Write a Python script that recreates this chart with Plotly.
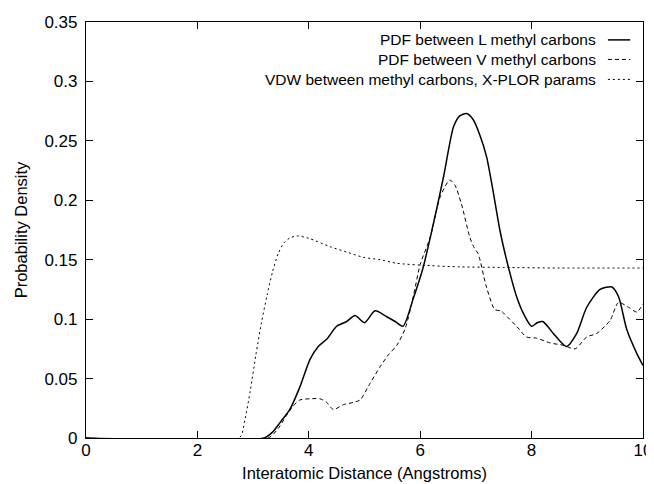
import plotly.graph_objects as go

# ---- data ----
l_x = [0, 3.2, 3.35, 3.5, 3.66, 3.84, 4.02, 4.17, 4.32, 4.5, 4.68, 4.83, 5.0, 5.19, 5.4, 5.55,
       5.69, 5.88, 6.05, 6.24, 6.42, 6.6, 6.71, 6.83, 6.95, 7.07, 7.19, 7.3, 7.43, 7.55, 7.73,
       7.85, 8.0, 8.1, 8.2, 8.39, 8.5, 8.63, 8.81, 8.99, 9.23, 9.44, 9.56, 9.71, 9.89, 10]
l_y = [0, 0, 0.005, 0.014, 0.024, 0.043, 0.066, 0.077, 0.083, 0.094, 0.098, 0.103, 0.097, 0.107,
       0.102, 0.098, 0.094, 0.118, 0.143, 0.181, 0.220, 0.262, 0.271, 0.273, 0.268, 0.255, 0.237,
       0.210, 0.175, 0.150, 0.119, 0.105, 0.094, 0.097, 0.098, 0.088, 0.082, 0.077, 0.088, 0.110,
       0.125, 0.127, 0.119, 0.091, 0.071, 0.061]

v_x = [0, 3.27, 3.45, 3.6, 3.72, 3.84, 4.02, 4.2, 4.32, 4.44, 4.62, 4.8, 4.92, 5.1, 5.28, 5.43,
       5.58, 5.73, 5.88, 6.0, 6.18, 6.36, 6.53, 6.62, 6.74, 6.89, 6.97, 7.04, 7.19, 7.34, 7.45,
       7.52, 7.73, 7.91, 8.09, 8.33, 8.57, 8.78, 8.99, 9.17, 9.41, 9.56, 9.74, 9.89, 10]
v_y = [0, 0, 0.008, 0.019, 0.027, 0.032, 0.033, 0.033, 0.030, 0.024, 0.028, 0.030, 0.032, 0.046,
       0.060, 0.070, 0.078, 0.092, 0.120, 0.146, 0.169, 0.203, 0.217, 0.213, 0.197, 0.169, 0.160,
       0.155, 0.127, 0.108, 0.107, 0.104, 0.094, 0.085, 0.084, 0.080, 0.078, 0.075, 0.085, 0.088,
       0.099, 0.114, 0.110, 0.106, 0.113]

vdw_x = [0, 2.75, 2.85, 2.95, 3.05, 3.15, 3.25, 3.35, 3.45, 3.55, 3.65, 3.78, 4.0, 4.38, 4.71,
         4.98, 5.28, 5.58, 6.18, 6.71, 7.5, 8.5, 10]
vdw_y = [0, 0, 0.015, 0.04, 0.07, 0.097, 0.12, 0.14, 0.155, 0.164, 0.168, 0.170, 0.168, 0.161,
         0.156, 0.152, 0.150, 0.147, 0.145, 0.144, 0.1435, 0.143, 0.143]

series_names = ["PDF between L methyl carbons",
                "PDF between V methyl carbons",
                "VDW between methyl carbons, X-PLOR params"]

x_ticks = [0, 2, 4, 6, 8, 10]
y_ticks = [0, 0.05, 0.1, 0.15, 0.2, 0.25, 0.3, 0.35]
y_tick_text = ["0", "0.05", "0.1", "0.15", "0.2", "0.25", "0.3", "0.35"]

FONT = "Liberation Sans, Arial, Helvetica, sans-serif"

fig = go.Figure()
styles = [dict(color="black", width=1.5, dash="solid"),
          dict(color="black", width=1, dash="4px,3px"),
          dict(color="black", width=1, dash="2px,3px")]
for (xs, ys), name, st in zip([(l_x, l_y), (v_x, v_y), (vdw_x, vdw_y)], series_names, styles):
    fig.add_trace(go.Scatter(x=xs, y=ys, mode="lines", name=name,
                             line=dict(shape="spline", smoothing=0.7, **st),
                             showlegend=False, cliponaxis=True))

# legend drawn gnuplot-style: text right-aligned, sample to the right
rows_y = [0.957, 0.910, 0.862]
for name, st, ry in zip(series_names, styles, rows_y):
    fig.add_annotation(x=0.919, y=ry, xref="paper", yref="paper", text=name,
                       showarrow=False, xanchor="right", yanchor="middle",
                       font=dict(family=FONT, size=15.5, color="black"))
    fig.add_shape(type="line", xref="paper", yref="paper", x0=0.937, x1=0.977, y0=ry, y1=ry,
                  line=dict(color="black", width=st["width"], dash=st["dash"]))

axis_common = dict(showgrid=False, zeroline=False, showline=True, linecolor="black",
                   linewidth=1.2, mirror="allticks", ticks="inside", ticklen=7,
                   tickcolor="black", automargin=False,
                   tickfont=dict(family=FONT, size=17, color="black"))
fig.update_xaxes(range=[0, 10], tickvals=x_ticks, ticktext=[str(t) for t in x_ticks],
                 ticklabelstandoff=-4,
                 title=dict(text="Interatomic Distance (Angstroms)", standoff=8,
                            font=dict(family=FONT, size=16.5, color="black")),
                 **axis_common)
fig.update_yaxes(range=[0, 0.35], tickvals=y_ticks, ticktext=y_tick_text,
                 ticklabelstandoff=4,
                 title=dict(text="Probability Density", standoff=12,
                            font=dict(family=FONT, size=16.5, color="black")),
                 **axis_common)
# the page body adds an 8px offset, so the figure is sized/margined to compensate
fig.update_layout(width=646, height=476, margin=dict(l=78, r=11, t=14, b=46),
                  paper_bgcolor="white", plot_bgcolor="white",
                  font=dict(family=FONT, color="black"))
fig.write_html("out.html")
